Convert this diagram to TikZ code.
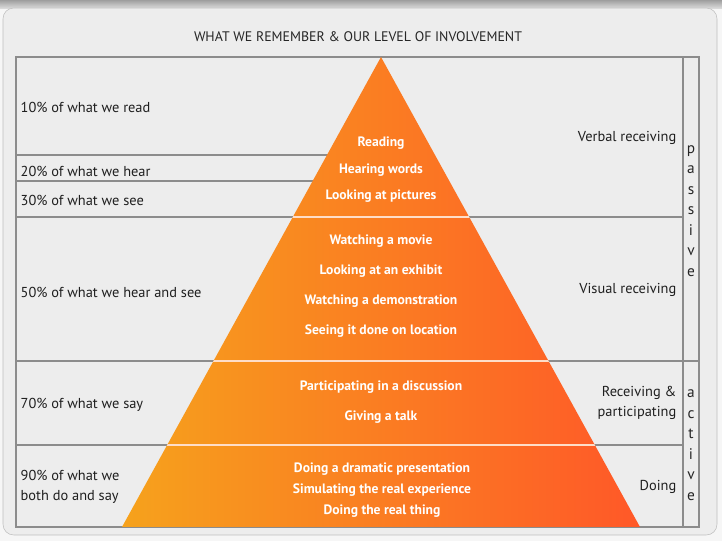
\documentclass[tikz,border=0pt]{standalone}
\usepackage{fontspec}
\setmainfont{PT Sans}
\usetikzlibrary{positioning}

\definecolor{pyrleft}{RGB}{246,162,28}
\definecolor{pyrmid}{RGB}{252,120,34}
\definecolor{pyrright}{RGB}{255,88,40}
\definecolor{gridgray}{RGB}{140,140,140}
\definecolor{cardfill}{RGB}{237,237,237}
\definecolor{pagefill}{RGB}{246,246,246}

\begin{document}
\begin{tikzpicture}[x=0.75pt, y=-0.75pt,
  grid/.style={draw=gridgray, line width=1.1pt},
  bandline/.style={draw=white!75!pyrmid, line width=1pt},
  amount/.style={anchor=west, align=left, text=black!88, font=\fontsize{10.8}{15}\selectfont},
  mode/.style={anchor=east, align=right, text=black!88, font=\fontsize{10.8}{15}\selectfont},
  vletters/.style={align=center, text=black!85, inner sep=0pt, font=\fontsize{11.5}{15.4}\selectfont},
  activity/.style={align=center, text=white, inner sep=0pt, font=\bfseries\fontsize{10.2}{#1}\selectfont}
]
% page and card
\useasboundingbox (0,0) rectangle (722,541);
\fill[pagefill] (0,0) rectangle (722,541);
\shade[top color=black!38, bottom color=black!12] (0,0) rectangle (722,9);
\draw[black!25, fill=cardfill, rounded corners=8pt] (3,8) rectangle (717,535);

\node[text=black!85, font=\fontsize{10.4}{13}\selectfont] (title) at (358,37) {WHAT WE REMEMBER \& OUR LEVEL OF INVOLVEMENT};

% table grid
\draw[grid] (16,57) rectangle (699,527);
\draw[grid] (683,57) -- (683,527);
\draw[grid] (16,155) -- (381,155);
\draw[grid] (16,181) -- (381,181);
\draw[grid] (16,217) -- (683,217);
\draw[grid] (16,361) -- (699,361);
\draw[grid] (16,445) -- (683,445);

% pyramid
\path[left color=pyrleft, middle color=pyrmid, right color=pyrright]
  (381,57) -- (640,527) -- (122,527) -- cycle;
\begin{scope}
  \clip (381,57) -- (640,527) -- (122,527) -- cycle;
  \draw[bandline] (100,217) -- (660,217);
  \draw[bandline] (100,361) -- (660,361);
  \draw[bandline] (100,445) -- (660,445);
\end{scope}

% activities
\node[activity=19.9] (verbal) at (381,170) {Reading\\Hearing words\\Looking at pictures};
\node[activity=22.5] (visual) at (381,286) {Watching a movie\\Looking at an exhibit\\Watching a demonstration\\Seeing it done on location};
\node[activity=22.5] (partic) at (381,402) {Participating in a discussion\\Giving a talk};
\node[activity=15.6] (doing) at (382,490) {Doing a dramatic presentation\\Simulating the real experience\\Doing the real thing};

% what we remember
\node[amount] (read) at (16,107) {10\% of what we read};
\node[amount] (hear) at (16,171) {20\% of what we hear};
\node[amount] (see) at (16,200) {30\% of what we see};
\node[amount] (hearsee) at (16,292) {50\% of what we hear and see};
\node[amount] (say) at (16,405) {70\% of what we say};
\node[amount] (dosay) at (16,487) {90\% of what we\\both do and say};

% level of involvement
\node[mode] (verbalrec) at (681,138) {Verbal receiving};
\node[mode] (visualrec) at (681,290) {Visual receiving};
\node[mode] (recpart) at (681,403) {Receiving \&\\participating};
\node[mode] (doingmode) at (681,487) {Doing};

\node[vletters] (passive) at (691,211) {p\\a\\s\\s\\i\\v\\e};
\node[vletters] (active) at (691,445) {a\\c\\t\\i\\v\\e};
\end{tikzpicture}
\end{document}
